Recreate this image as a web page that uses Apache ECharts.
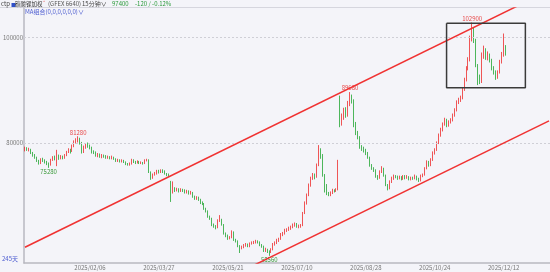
<!DOCTYPE html>
<html><head><meta charset="utf-8">
<script src="https://cdn.jsdelivr.net/npm/echarts@6/dist/echarts.min.js"></script>
<style>html,body{margin:0;padding:0;background:#f4f4f9;}#c{width:550px;height:272px;}</style>
</head><body><div id="c"></div>
<script>
const startDate = '2024-12-12';
const slotCount = 267;
const holidays = ['2025/01/01','2025/01/28','2025/01/29','2025/01/30','2025/01/31','2025/02/03','2025/02/04','2025/04/04','2025/05/01','2025/05/02','2025/05/05','2025/06/02','2025/10/01','2025/10/02','2025/10/03','2025/10/06','2025/10/07','2025/10/08','2026/01/01','2026/01/02'];
const tickLabels = ['2025/02/06','2025/03/27','2025/05/21','2025/07/10','2025/08/28','2025/10/24','2025/12/12'];
const yTicks = [80000, 100000];

const opens = [
78600,79000,78700,78800,78100,77600,77300,76600,76200,76900,
76700,76400,76100,75900,76800,77200,76000,77500,77100,77400,
77200,77600,78300,78600,78400,79400,80200,80500,80700,80000,
78300,79200,79800,79400,79200,78300,78200,77600,77800,77400,
77600,77500,77200,77400,77100,77300,77000,76600,76800,76500,
76700,76400,76000,75900,76100,76800,76400,76300,76500,76200,
76300,76100,76700,76800,74500,73400,74000,74200,74700,74500,
74800,74600,74200,74000,72500,70700,71400,71000,71200,70900,
71100,71000,70700,70800,70500,70600,69800,69500,69600,69300,
68600,68500,67500,67100,66000,65700,64400,64200,63900,65200,
65500,64500,62800,62400,61900,62000,63100,61600,61400,60400,
60000,60200,60500,60700,60400,60900,61000,61100,61300,61200,
60600,60400,59500,59800,59400,59300,59700,60800,61000,61500,
61700,62600,62800,63400,63500,63800,64000,64400,64600,64100,
64200,64300,66700,68600,70100,72000,73300,73900,73500,75800,
78600,77700,73900,72000,70400,70200,70500,71000,70900,71100,
88500,84000,84700,86200,85300,87600,88700,88100,83400,81900,
81100,79200,79000,78600,78100,77300,75800,75200,74900,73700,
73400,74500,75200,73900,72000,71400,72600,73300,73700,73600,
73300,73500,73200,73700,73400,73600,73100,73400,73300,73700,
73200,72900,73800,73900,75200,76400,75800,76800,78100,78700,
80000,81500,82500,83600,84400,83400,84000,84300,85300,86200,
87800,88200,88500,90100,92000,94200,95800,99900,101500,99600,
94800,92300,91600,96700,97700,96300,96700,95800,94200,93500,
92500,93400,95400,96700,97520];

const closes = [
79000,78700,78800,78100,77600,77300,76600,76200,76900,76700,
76400,76100,75900,76800,77200,77000,77500,77100,77400,77200,
77600,78300,78600,78400,79400,80200,80500,80700,80000,78300,
79200,79600,79400,79200,78300,78200,77600,77800,77400,77600,
77500,77200,77400,77100,77300,77000,76600,76800,76500,76700,
76400,76000,75900,76100,76800,76400,76300,76500,76200,76300,
76100,76700,76800,74500,73400,74000,74200,74700,74500,74800,
74600,74200,74000,73900,70700,71400,71000,71200,70900,71100,
71000,70700,70800,70500,70600,69800,69500,69600,69300,68600,
68500,67500,67100,66000,65700,64400,64200,63900,65200,65500,
64500,62800,62400,61900,62000,63100,61600,61400,60400,60000,
60200,60500,60700,60400,60900,61000,61100,61300,61200,60600,
60400,59500,59800,59400,59300,59700,60800,61000,61500,61700,
62600,62800,63400,63500,63800,64000,64400,64600,64100,64200,
64300,66700,68600,70100,72000,73300,73900,73500,75800,78600,
77700,73900,72000,70400,70200,70500,71000,70900,71100,76700,
84000,84700,86200,85300,87600,88700,88100,83400,81900,81100,
79200,79000,78600,78100,77300,75800,75200,74900,73700,73400,
74500,75200,73900,72000,71400,72600,73300,73700,73600,73300,
73500,73200,73700,73400,73600,73100,73400,73300,73700,73200,
72900,73800,73900,75200,76400,75800,76800,78100,78700,80000,
81500,82500,83600,84400,83400,84000,84300,85300,86200,87800,
88200,88500,90100,92000,94200,95800,99900,101500,99600,94800,
92300,91600,96700,97700,96300,96700,95800,94200,93500,92500,
93400,95400,96700,97520,97400];

const lows = [
78400,78500,78400,77900,77400,77000,76400,75900,76000,76400,
76100,75800,75280,75700,76600,76700,75600,76800,76900,76900,
77000,77500,78100,78000,78300,79200,79900,80100,79700,78000,
78100,78900,79100,78800,78000,77900,77400,77300,77200,77100,
77200,77000,77000,76900,76900,76800,76400,76400,76300,76300,
76200,75800,75700,75700,75900,76200,76000,76100,76000,76000,
75900,76000,76500,74300,73000,73200,73800,74000,74200,74300,
74300,74000,73700,73600,68800,70400,70700,70800,70600,70700,
70700,70400,70400,70200,70200,69600,69200,69200,69000,68400,
68200,67300,66800,65800,65400,64200,63900,63600,63800,65000,
64300,62600,62100,61600,61700,61900,61400,61100,60200,59100,
59800,60000,60300,60200,60200,60700,60800,60900,60900,60400,
60100,59300,59300,59100,58560,59100,59600,60500,60800,61200,
61600,62300,62600,63100,63300,63500,63800,64100,63900,63800,
63900,64200,66500,68300,69900,71700,73000,73100,73400,75600,
77000,73600,70600,70100,69900,69900,70300,70600,70700,71000,
83000,83300,84400,84800,85000,87000,87500,83000,81500,80700,
78900,78500,78200,77700,77000,75500,74900,74500,73400,73000,
73200,74300,73600,71800,71000,71200,72400,73000,73300,73000,
73100,72900,73000,73100,73200,72900,72900,73000,73100,72900,
72600,72700,73500,73800,75000,75500,75600,76600,77800,78500,
79800,81200,82200,83300,83000,83100,83700,84100,85000,86000,
87400,87800,88300,89900,91700,93800,95500,99300,99000,94400,
91000,91200,91400,96000,95800,95700,95300,93800,93000,92000,
92200,93200,95100,96400,96600];

const highs = [
79300,79200,79100,78900,78300,77900,77400,76800,77100,77200,
76900,76600,76300,77000,77500,77600,78700,77800,77700,77600,
77900,78500,79000,78900,79700,80500,80900,81280,81000,80200,
79500,79900,80100,79700,79300,78600,78400,78100,78000,77900,
77800,77700,77600,77500,77600,77400,77100,77000,76900,76900,
76800,76500,76200,76300,77000,76900,76600,76700,76600,76500,
76400,76900,77000,76900,74600,74200,74500,74900,74900,75000,
75000,74800,74300,74200,72800,72700,71600,71500,71400,71400,
71300,71200,71100,71000,70900,70700,70000,69900,69800,69400,
68900,68600,67700,67200,66200,65800,64700,64400,65500,66300,
65600,64600,63000,62600,62300,63400,63200,61800,61500,60600,
60500,60800,61000,60900,61100,61300,61400,61600,61500,61300,
60800,60500,60100,59900,59600,60000,61000,61300,61800,62000,
62900,63100,63700,63800,64100,64300,64700,64900,64800,64500,
64600,66900,68900,70400,72300,73600,74300,74200,76100,79600,
79000,77900,74100,72200,70700,70800,71300,71200,71400,76800,
89000,85600,86700,86800,88000,89680,89200,88300,84000,82300,
81300,79600,79300,78900,78300,77400,76000,75400,75000,73900,
74800,75600,75300,74000,72200,72900,73600,74000,73900,73800,
73800,73700,73900,73900,73900,73700,73600,73600,74000,73800,
73400,74000,74200,75400,76700,76600,77100,78400,79000,80300,
81800,82900,83900,84800,84600,84300,84700,85600,86600,88100,
88600,89000,90500,92400,94600,96300,100400,102900,101900,99800,
95000,93000,97200,98500,98000,97400,97000,96000,94600,93800,
93800,95800,97300,100800,98600];

// channel lines and box, in (category index, price)
const upperChannel = [[0, 60200], [266, 108970]];
const lowerChannel = [[110, 55640], [266, 84190]];
const boxCorners = [[214, 102740], [254, 102740], [254, 90500], [214, 90500], [214, 102740]];
const highMarks = [27, 165, 227];
const lowMarks = [12, 124];

function pad(n){ return (n < 10 ? '0' : '') + n; }
function buildDates(start, n, hol) {
  const out = [];
  const d = new Date(start + 'T00:00:00Z');
  while (out.length < n) {
    const s = d.getUTCFullYear() + '/' + pad(d.getUTCMonth() + 1) + '/' + pad(d.getUTCDate());
    const dow = d.getUTCDay();
    if (dow !== 0 && dow !== 6 && hol.indexOf(s) < 0) out.push(s);
    d.setUTCDate(d.getUTCDate() + 1);
  }
  return out;
}
const dates = buildDates(startDate, slotCount, holidays);
const candles = opens.map((o, i) => [o, closes[i], lows[i], highs[i]]);

const FONT = "'Noto Sans CJK SC', 'Noto Sans', sans-serif";
const UP = '#ee2c2c', DOWN = '#22a632';

const markPts = highMarks.map(i => ({
  coord: [dates[i], highs[i]], value: highs[i],
  label: { position: 'top', distance: 1, color: '#e84a4a' }
})).concat(lowMarks.map(i => ({
  coord: [dates[i], lows[i]], value: lows[i],
  label: { position: 'bottom', distance: 1, color: '#3a9a3a' }
})));

function txt(x, y, text, color, size) {
  return { type: 'text', x: x, y: y, silent: true,
    style: { text: text, font: (size || 6) + 'px ' + FONT, fill: color, verticalAlign: 'middle', align: 'left' } };
}

const chart = echarts.init(document.getElementById('c'), null, { renderer: 'canvas' });
chart.setOption({
  animation: false,
  backgroundColor: '#f4f4f9',
  textStyle: { fontFamily: FONT },
  grid: { left: 22, right: 0, top: 8, bottom: 9, containLabel: false },
  xAxis: {
    type: 'category', data: dates, boundaryGap: true,
    axisLine: { show: true, lineStyle: { color: '#b8b8c0', width: 1.5 } },
    axisTick: { show: false },
    axisLabel: {
      interval: (idx, val) => tickLabels.indexOf(val) >= 0,
      fontSize: 6, color: '#777', margin: 2, fontFamily: FONT
    },
    splitLine: { show: false }
  },
  yAxis: {
    type: 'value', min: 57200, max: 105650, scale: true,
    axisLine: { show: true, lineStyle: { color: '#b8b8c0', width: 1.5 } },
    axisTick: { show: false },
    axisLabel: { customValues: yTicks, formatter: v => String(v), fontSize: 6, color: '#777', margin: 1, fontFamily: FONT },
    splitLine: { show: false }
  },
  series: [
    {
      type: 'candlestick', data: candles, barWidth: 1.1,
      itemStyle: { color: UP, color0: DOWN, borderColor: UP, borderColor0: DOWN, borderWidth: 0.8 },
      markLine: {
        silent: true, symbol: 'none', animation: false,
        label: { show: false },
        lineStyle: { type: [2, 2], color: '#cfcfd6', width: 1 },
        data: yTicks.map(v => ({ yAxis: v }))
      },
      markPoint: {
        symbol: 'circle', symbolSize: 0, silent: true, animation: false,
        label: { show: true, fontSize: 6, fontFamily: FONT, formatter: p => String(p.value) },
        data: markPts
      },
      z: 3
    },
    {
      type: 'line', data: upperChannel, symbol: 'none', silent: true, clip: true,
      lineStyle: { color: '#f03232', width: 1.5 }, z: 5
    },
    {
      type: 'line', data: lowerChannel, symbol: 'none', silent: true, clip: true,
      lineStyle: { color: '#f03232', width: 1.5 }, z: 5
    },
    {
      type: 'line', data: boxCorners, symbol: 'none', silent: true, clip: true,
      lineStyle: { color: '#3a3a3a', width: 1.5 }, z: 6
    }
  ],
  graphic: [
    { type: 'line', shape: { x1: 0, y1: 7.5, x2: 550, y2: 7.5 }, style: { stroke: '#d6d6de', lineWidth: 1 }, silent: true },
    txt(1, 4, 'ctp', '#444'),
    txt(11, 4, '■', '#3050c8', 5),
    txt(15, 4, '碳酸锂加权', '#333', 5.5),
    txt(43, 2.5, '°', '#e84a4a'),
    txt(48, 4, '(GFEX 6640)', '#555'),
    txt(82, 4, '15分钟∨', '#444'),
    txt(112, 4, '97400', '#2a9a3a'),
    txt(135, 4, '-120 / -0.12%', '#2a9a3a'),
    txt(25, 12, 'MA组合(0,0,0,0,0,0)∨', '#4a5ad0'),
    txt(2, 259, '245天', '#4a5ad0')
  ]
});
</script>
</body></html>
